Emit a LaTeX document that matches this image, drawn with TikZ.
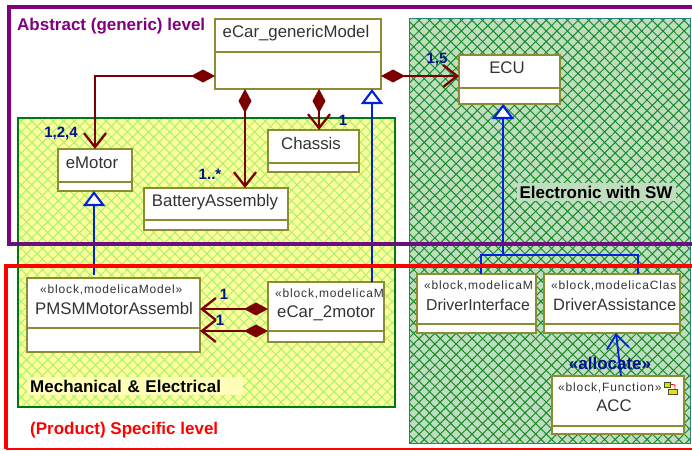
\documentclass[tikz,border=0pt]{standalone}
\usepackage{fontspec}
\setmainfont{Liberation Sans}
\newfontfamily\stereofont[LetterSpace=7]{Liberation Sans}
\usetikzlibrary{arrows.meta,patterns.meta,calc}
\definecolor{boxline}{HTML}{8C8C32}
\definecolor{purp}{HTML}{800080}
\definecolor{purpb}{HTML}{6B0F7F}
\definecolor{maroon}{HTML}{7B0000}
\definecolor{navy}{HTML}{00128C}
\definecolor{bl}{HTML}{0022E0}
\definecolor{gfill}{HTML}{C0DDC0}
\definecolor{gline}{HTML}{128C25}
\definecolor{gedge}{HTML}{007A10}
\definecolor{yfill}{HTML}{FFFF99}
\definecolor{yline}{HTML}{A8F078}
\tikzset{
 x=1pt,y=-1pt,
 umlbox/.style={draw=boxline,line width=1.5pt,fill=white,inner sep=0pt,outer sep=0pt,anchor=north west},
 divline/.style={draw=boxline,line width=1.5pt},
 big/.style={font=\fontsize{16.8}{16.8}\selectfont,inner sep=0pt,text=black!80},
 stereo/.style={font=\stereofont\fontsize{12}{12}\selectfont,inner sep=0pt,text=black!80},
 mult/.style={font=\bfseries\fontsize{15}{15}\selectfont,inner sep=0pt,text=navy},
 title/.style={font=\bfseries\fontsize{17}{17}\selectfont,inner sep=0pt},
 comp/.style={draw=maroon,line width=2.3pt,{Diamond[length=24pt,width=13pt,fill=maroon]}-{Straight Barb[length=14pt,width=22pt,line width=2.3pt]}},
 gen/.style={draw=bl,line width=2.1pt,-{Triangle[open,length=15pt,width=22pt,fill=white,line width=2.1pt]}},
 genplain/.style={draw=bl,line width=2.1pt},
}
\newcommand{\umlrect}[6]{% name x1 y1 x2 y2 ydiv
 \pgfmathsetmacro{\wdd}{#4-#2}\pgfmathsetmacro{\htt}{#5-#3}
 \node[umlbox,minimum width=\wdd pt,minimum height=\htt pt] (#1) at (#2,#3) {};
 \draw[divline] (#2,#6) -- (#4,#6);
}
\begin{document}
\begin{tikzpicture}
\useasboundingbox (0,0) rectangle (692,450);
\fill[white] (0,0) rectangle (692,450);
% regions
\fill[yfill] (18,118) rectangle (395,407);
\fill[pattern={Lines[angle=45,distance=7.5pt,line width=1pt]},pattern color=yline] (18,118) rectangle (395,407);
\fill[pattern={Lines[angle=-45,distance=7.5pt,line width=1pt]},pattern color=yline] (18,118) rectangle (395,407);
\draw[draw=gedge,line width=2pt] (18,118) rectangle (395,407);
\fill[gfill] (409,18) rectangle (690,443);
\fill[pattern={Lines[angle=45,distance=7.5pt,line width=1pt]},pattern color=gline] (409,18) rectangle (690,443);
\fill[pattern={Lines[angle=-45,distance=7.5pt,line width=1pt]},pattern color=gline] (409,18) rectangle (690,443);
\draw[draw=teal!70!gray,line width=1pt] (409,18) rectangle (690,443);
% boxes
\umlrect{eCar}{215}{19}{381}{89}{52}
\umlrect{chassis}{268}{130}{359}{172}{163}
\umlrect{eMotor}{58}{149}{132}{191}{182}
\umlrect{battery}{144}{188}{288}{230}{220}
\umlrect{ecu}{459}{55}{560}{104}{88}
\umlrect{pmsm}{27}{278}{200}{352}{328}
\umlrect{eCarTwo}{268}{282}{384}{342}{331}
\umlrect{di}{417}{274}{536}{333}{324}
\umlrect{da}{544}{274}{680}{333}{324}
\umlrect{acc}{552}{376}{684}{434}{426}
% box texts
\node[big] (tGen) at (296,33) {eCar\_genericModel};
\node[big] (tCh) at (311,143) {Chassis};
\node[big] (tMo) at (92,163) {eMotor};
\node[big] (tBa) at (215,202) {BatteryAssembly};
\node[big] (tEc) at (507,68) {ECU};
\node[stereo,anchor=west] (sP) at (40,290) {«block,modelicaModel»};
\node[big,anchor=west] (tP) at (35,308) {PMSMMotorAssembl};
\node[stereo,anchor=west] (sE) at (275,294) {«block,modelicaM};
\node[big,anchor=west] (tE) at (277,313) {eCar\_2motor};
\node[stereo,anchor=west] (sD) at (424,286) {«block,modelicaM};
\node[big,anchor=west,font=\fontsize{15.8}{15.8}\selectfont] (tD) at (426,305) {DriverInterface};
\node[stereo,anchor=west] (sA) at (551,286) {«block,modelicaClas};
\node[big,anchor=west,font=\fontsize{16.4}{16.4}\selectfont] (tA) at (553,305) {DriverAssistance};
\node[stereo,anchor=west] (sC) at (558,388) {«block,Function»};
\node[big] (tC) at (614,406) {ACC};
% icon
\draw[red,line width=.9pt] (669,384) -- (675,385) -- (675,389);
\draw[black!55!olive,line width=.8pt,fill=yellow!80!green] (664,382) rectangle (670,387);
\draw[black!55!olive,line width=.8pt,fill=yellow!90!black] (668,389) rectangle (677,394);
% connectors
\draw[comp] (eCar.west |- 0,76) -| (eMotor.north);
\draw[comp] (eCar.south -| 245,0) -- (battery.north -| 245,0);
\draw[comp] (eCar.south -| 319,0) -- (chassis.north -| 319,0);
\draw[comp] (eCar.east |- 0,76) -- (ecu.west |- 0,76);
\draw[comp] (eCarTwo.west |- 0,309) -- (pmsm.east |- 0,309);
\draw[comp] (eCarTwo.west |- 0,331) -- (pmsm.east |- 0,331);
\draw[gen,shorten <=3pt] (pmsm.north -| 94,0) -- (eMotor.south -| 94,0);
\draw[gen] (eCarTwo.north -| 372,0) -- (eCar.south -| 372,0);
\coordinate (join) at (503,255);
\draw[gen] (join) -- (ecu.south -| join);
\draw[genplain] (di.north -| 481,0) |- (join) -| (da.north -| 638,0);
\draw[draw=bl,line width=1.8pt,-{Straight Barb[length=14pt,width=22pt,line width=1.8pt]}] (acc.north -| 621,0) -- (da.south -| 616,0);
% frames
\draw[purp,line width=4pt] (692,7) -- (9,7) -- (9,244);
\draw[purpb,line width=4pt] (7,244) -- (692,244);
\draw[red,line width=4pt] (692,266) -- (6,266) -- (6,449);
\draw[red,line width=1.5pt] (6,449) -- (692,449);
% labels
\node[title,text=purp,anchor=west] (lAb) at (17,26) {Abstract (generic) level};
\node[title,text=red,anchor=west] (lPr) at (30,430) {(Product) Specific level};
\node[title,fill=gfill,text=black,anchor=center,inner xsep=3pt,inner ysep=3pt] (lEl) at (596,192) {Electronic with SW};
\node[title,fill=yfill!70!white,text=black,anchor=west,inner xsep=3pt,inner ysep=3pt,text width=210pt] (lMe) at (27,386) {Mechanical \& Electrical};
\node[mult] (m1) at (61,133) {1,2,4};
\node[mult] (m2) at (210,174) {1..*};
\node[mult] (m3) at (343,120) {1};
\node[mult] (m4) at (437,59) {1,5};
\node[mult] (m5) at (224,294) {1};
\node[mult] (m6) at (220,320) {1};
\node[mult,font=\bfseries\fontsize{17}{17}\selectfont] (m7) at (610,363) {«allocate»};
\end{tikzpicture}
\end{document}
